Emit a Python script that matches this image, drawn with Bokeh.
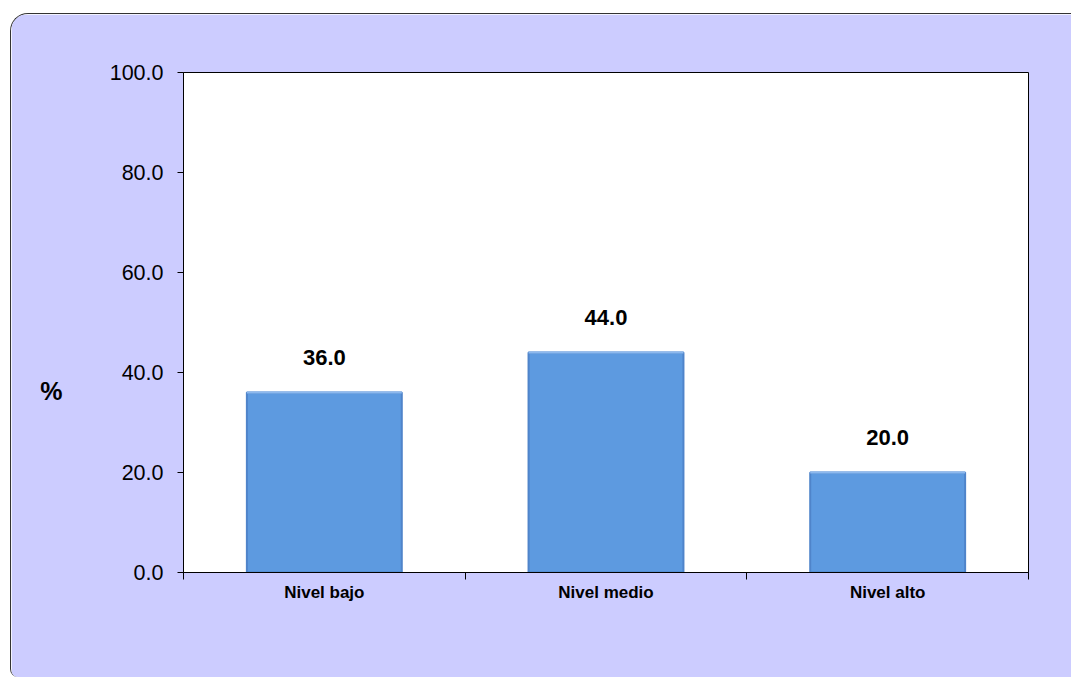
from bokeh.plotting import figure
from bokeh.models import (ColumnDataSource, Range1d, FixedTicker,
                          NumeralTickFormatter, LabelSet, LinearAxis)
from bokeh.core.properties import value
from bokeh.embed import file_html
from bokeh.resources import INLINE

# Data
categories = ["Nivel bajo", "Nivel medio", "Nivel alto"]
percentages = [36.0, 44.0, 20.0]
y_ticks = [0, 20, 40, 60, 80, 100]

BAR_WIDTH = 0.55
UNIT_LABEL_Y = 36.4  # height (in axis units) at which the "%" unit is written

# Each category occupies one unit slot; bars sit in the middle of their slot
slots = [i + 0.5 for i in range(len(categories))]
source = ColumnDataSource(dict(
    x=slots,
    left=[s - BAR_WIDTH / 2 for s in slots],
    right=[s + BAR_WIDTH / 2 for s in slots],
    pct=percentages,
    txt=[f"{v:.1f}" for v in percentages],
))

FONT = "Liberation Sans"
PANEL = "#CCCCFF"

p = figure(
    x_range=Range1d(0, len(categories)),
    y_range=Range1d(0, 100),
    width=1061, height=664,
    output_backend="svg", toolbar_location=None,
    x_axis_location=None, y_axis_location=None,
    min_border_left=172, min_border_right=44,
    min_border_top=58, min_border_bottom=106,
    border_fill_color=PANEL, background_fill_color="white",
    outline_line_color="black", outline_line_width=1,
)
p.styles = {
    "margin-left": "10px", "margin-top": "13px",
    "border-top": "1px solid #333333", "border-left": "1px solid #333333",
    "border-radius": "18px 0 0 8px", "overflow": "hidden",
}
p.xgrid.visible = False
p.ygrid.visible = False

# Y axis
yax = LinearAxis(
    ticker=FixedTicker(ticks=y_ticks),
    formatter=NumeralTickFormatter(format="0.0"),
    major_label_text_font=FONT, major_label_text_font_size="21.5px",
    major_label_text_color="black", major_label_standoff=14,
    major_tick_out=6, major_tick_in=0, minor_tick_line_color=None,
    axis_line_color="black", major_tick_line_color="black",
)
p.add_layout(yax, "left")

# Unit of the y axis, written beside it as a single tick label
unit_ax = LinearAxis(
    ticker=FixedTicker(ticks=[UNIT_LABEL_Y]),
    major_label_overrides={UNIT_LABEL_Y: "%"},
    major_label_text_font=FONT, major_label_text_font_size="25px",
    major_label_text_font_style="bold", major_label_text_color="black",
    major_label_standoff=44,
    axis_line_color=None, major_tick_line_color=None,
    minor_tick_line_color=None, major_tick_out=0, major_tick_in=0,
)
p.add_layout(unit_ax, "left")

# X axis: labels at slot centres, tick marks on slot boundaries
xax = LinearAxis(
    ticker=FixedTicker(ticks=slots,
                       minor_ticks=list(range(len(categories) + 1))),
    major_label_overrides={s: c for s, c in zip(slots, categories)},
    major_label_text_font=FONT, major_label_text_font_size="17px",
    major_label_text_font_style="bold", major_label_text_color="black",
    major_label_standoff=3,
    major_tick_line_color=None, major_tick_out=0, major_tick_in=0,
    minor_tick_line_color="black", minor_tick_out=7, minor_tick_in=0,
    axis_line_color="black",
)
p.add_layout(xax, "below")

# Bars with a darker rim and a lighter top edge
p.vbar(x="x", top="pct", width=BAR_WIDTH, source=source,
       fill_color="#5D9AE0", line_color="#4F84CA", line_width=2)
p.segment(x0="left", x1="right", y0="pct", y1="pct", source=source,
          line_color="#8DB9EE", line_width=2)

# Value labels
labels = LabelSet(x="x", y="pct", text="txt", source=source,
                  text_align="center", text_baseline="alphabetic",
                  y_offset=28, text_font=value(FONT), text_font_size="22px",
                  text_font_style="bold", text_color="black")
p.add_layout(labels)

open("out.html", "w").write(file_html(p, INLINE))
